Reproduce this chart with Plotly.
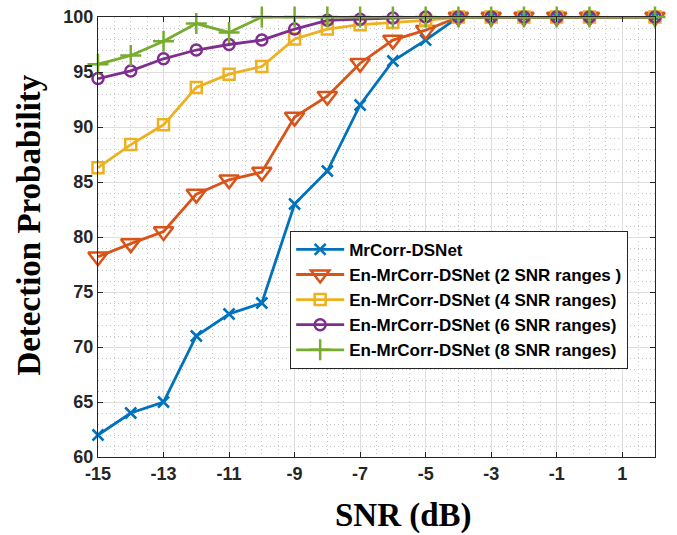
import plotly.graph_objects as go

snr = [-15, -14, -13, -12, -11, -10, -9, -8, -7, -6, -5, -4, -3, -2, -1, 0, 2]

mrcorr = [62, 64, 65, 71, 73, 74, 83, 86, 92, 96, 97.9, 100, 100, 100, 100, 100, 100]
en2 = [78.2, 79.4, 80.5, 83.9, 85.2, 85.9, 90.9, 92.8, 95.8, 97.9, 98.8, 100, 100, 100, 100, 100, 100]
en4 = [86.3, 88.4, 90.2, 93.6, 94.8, 95.5, 98.0, 98.9, 99.3, 99.5, 99.7, 100, 100, 100, 100, 100, 100]
en6 = [94.4, 95.1, 96.2, 97.0, 97.5, 97.9, 98.9, 99.7, 99.8, 99.9, 100, 100, 100, 100, 100, 100, 100]
en8 = [95.7, 96.5, 97.8, 99.4, 98.6, 100, 100, 100, 100, 100, 100, 100, 100, 100, 100, 100, 100]

names = [
    "MrCorr-DSNet",
    "En-MrCorr-DSNet (2 SNR ranges )",
    "En-MrCorr-DSNet (4 SNR ranges)",
    "En-MrCorr-DSNet (6 SNR ranges)",
    "En-MrCorr-DSNet (8 SNR ranges)",
]
colors = ["#0072BD", "#D95319", "#EDB120", "#7E2F8E", "#77AC30"]
symbols = ["x-thin-open", "triangle-down-open", "square-open", "circle-open", "cross-thin-open"]
sizes = [11, 17, 11, 11, 15]
series = [mrcorr, en2, en4, en6, en8]

xticks = [-15, -13, -11, -9, -7, -5, -3, -1, 1]
yticks = [60, 65, 70, 75, 80, 85, 90, 95, 100]

fig = go.Figure()
for name, c, s, sz, ys in zip(names, colors, symbols, sizes, series):
    fig.add_trace(go.Scatter(
        x=snr, y=ys, name=name, mode="lines+markers",
        line=dict(color=c, width=2.8),
        marker=dict(symbol=s, size=sz, color=c, line=dict(color=c, width=2.5)),
        cliponaxis=False,
    ))

axis_common = dict(
    showline=True, linecolor="#262626", linewidth=1, mirror="ticks",
    ticks="inside", ticklen=5, tickcolor="#262626",
    showgrid=True, gridcolor="#dedede", gridwidth=1.3,
    zeroline=False, automargin=False,
    tickfont=dict(family="Liberation Sans", size=18, color="#262626", weight="bold"),
)

minor_common = dict(showgrid=True, griddash="1px,3px", gridcolor="#c4c4c4", gridwidth=1, ticks="")

fig.update_xaxes(
    range=[-15, 2], tickmode="array", tickvals=xticks,
    ticktext=[str(v) for v in xticks],
    minor=dict(dtick=0.5, **minor_common),
    **axis_common,
)
fig.update_yaxes(
    range=[60, 100], tickmode="array", tickvals=yticks,
    ticktext=[str(v) for v in yticks],
    minor=dict(dtick=1, **minor_common),
    **axis_common,
)

fig.update_layout(
    width=677, height=535,
    margin=dict(l=98, r=22, t=17, b=78, autoexpand=False),
    paper_bgcolor="white", plot_bgcolor="white",
    showlegend=True,
    legend=dict(
        x=0.345, y=0.514, xanchor="left", yanchor="top",
        bgcolor="white", bordercolor="#262626", borderwidth=1,
        font=dict(family="Liberation Sans", size=17, color="black", weight="bold"),
        itemwidth=48, tracegroupgap=0,
    ),
    annotations=[
        dict(text="SNR (dB)", x=0.5476, y=-0.132, xref="paper", yref="paper",
             xanchor="center", yanchor="middle", showarrow=False,
             font=dict(family="Liberation Serif", size=33, color="black", weight="bold")),
        dict(text="Detection Probability", x=-0.124, y=0.528, xref="paper", yref="paper",
             xanchor="center", yanchor="middle", showarrow=False, textangle=-90,
             font=dict(family="Liberation Serif", size=33, color="black", weight="bold")),
    ],
)

fig.write_html("out.html")
